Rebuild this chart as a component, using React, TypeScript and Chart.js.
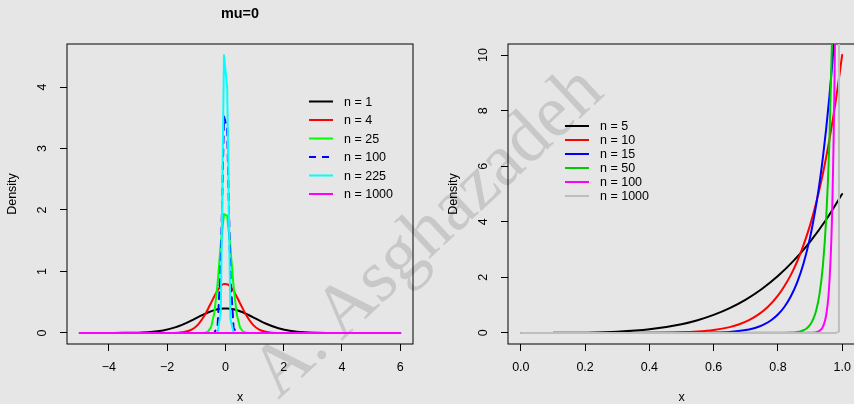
import React, { useEffect, useRef } from "react";
import { Chart, registerables } from "chart.js";

Chart.register(...registerables);

const FONT = '"Liberation Sans", Arial, Helvetica, sans-serif';
const BG = "#e6e6e6";

// ---------------- Left panel (mu = 0) ----------------
const leftTitle = "mu=0";
const leftXTicks = [-4, -2, 0, 2, 4, 6];
const leftXTickLabels = ["\u22124", "\u22122", "0", "2", "4", "6"];
const leftYTicks = [0, 1, 2, 3, 4];
const leftYTickLabels = ["0", "1", "2", "3", "4"];
const leftLabels = ["n = 1", "n = 4", "n = 25", "n = 100", "n = 225", "n = 1000"];

const n1X = [-5, -3.9, -3.46, -3.02, -2.58, -2.14, -1.7, -1.26, -1.04, -0.82, -0.6, -0.38, -0.16, -0.05, 0.06, 0.28, 0.5, 0.72, 0.94, 1.16, 1.38, 1.82, 2.26, 2.7, 3.14, 3.58, 4.02, 6];
const n1Y = [0, 0.0002, 0.001, 0.0042, 0.0143, 0.0404, 0.094, 0.18, 0.232, 0.285, 0.333, 0.371, 0.394, 0.398, 0.398, 0.384, 0.352, 0.308, 0.257, 0.204, 0.154, 0.076, 0.031, 0.0104, 0.0029, 0.0007, 0.0001, 0];

const n4X = [-5, -2.0, -1.6, -1.38, -1.16, -0.94, -0.72, -0.5, -0.27, -0.05, 0.06, 0.28, 0.5, 0.72, 0.94, 1.16, 1.38, 1.6, 2.0, 6];
const n4Y = [0, 0.0003, 0.0048, 0.0177, 0.054, 0.136, 0.283, 0.484, 0.69, 0.794, 0.792, 0.682, 0.484, 0.283, 0.136, 0.054, 0.0177, 0.0048, 0.0003, 0];

const n25X = [-5, -0.82, -0.71, -0.6, -0.49, -0.38, -0.27, -0.16, -0.05, 0.06, 0.17, 0.28, 0.39, 0.5, 0.61, 0.72, 0.83, 6];
const n25Y = [0, 0.0004, 0.0037, 0.022, 0.099, 0.328, 0.802, 1.449, 1.933, 1.907, 1.39, 0.749, 0.298, 0.088, 0.019, 0.003, 0.0003, 0];

const n100X = [-5, -0.49, -0.38, -0.27, -0.16, -0.05, 0.06, 0.17, 0.28, 0.39, 0.5, 6];
const n100Y = [0, 0, 0.003, 0.104, 1.109, 3.52, 3.332, 0.94, 0.079, 0.002, 0, 0];

const n225X = [-5, -0.38, -0.27, -0.16, -0.05, 0.06, 0.17, 0.28, 0.39, 6];
const n225Y = [0, 0, 0.0016, 0.336, 4.517, 3.991, 0.232, 0.0009, 0, 0];

const n1000X = [-5, 6];
const n1000Y = [0, 0];

// ---------------- Right panel ----------------
const rightXTicks = [0, 0.2, 0.4, 0.6, 0.8, 1.0];
const rightXTickLabels = ["0.0", "0.2", "0.4", "0.6", "0.8", "1.0"];
const rightYTicks = [0, 2, 4, 6, 8, 10];
const rightYTickLabels = ["0", "2", "4", "6", "8", "10"];
const rightLabels = ["n = 5", "n = 10", "n = 15", "n = 50", "n = 100", "n = 1000"];

const m5X = [0, 0.1, 0.2, 0.3, 0.4, 0.5, 0.55, 0.6, 0.65, 0.7, 0.75, 0.8, 0.85, 0.9, 0.95, 1.0];
const m5Y = [0, 0.0005, 0.008, 0.0405, 0.128, 0.3125, 0.4575, 0.648, 0.8925, 1.2005, 1.582, 2.048, 2.61, 3.2805, 4.0725, 5];

const m10X = [0, 0.3, 0.4, 0.5, 0.55, 0.6, 0.65, 0.68, 0.71, 0.74, 0.77, 0.8, 0.82, 0.84, 0.86, 0.88, 0.9, 0.92, 0.94, 0.96, 0.98, 1.0];
const m10Y = [0, 0.0002, 0.0026, 0.0195, 0.046, 0.101, 0.207, 0.311, 0.458, 0.665, 0.951, 1.34, 1.68, 2.08, 2.57, 3.17, 3.87, 4.72, 5.73, 6.93, 8.34, 10];

const m15X = [0, 0.5, 0.6, 0.65, 0.7, 0.72, 0.74, 0.76, 0.78, 0.8, 0.82, 0.84, 0.86, 0.88, 0.9, 0.91, 0.92, 0.93, 0.94, 0.95, 0.96, 0.97, 0.98, 0.99, 1.0];
const m15Y = [0, 0.0009, 0.0118, 0.036, 0.1017, 0.151, 0.2215, 0.322, 0.463, 0.66, 0.933, 1.31, 1.82, 2.51, 3.43, 4.01, 4.67, 5.43, 6.31, 7.32, 8.47, 9.79, 11.31, 13.03, 15];

const m50X = [0, 0.8, 0.82, 0.84, 0.85, 0.86, 0.87, 0.88, 0.89, 0.9, 0.91, 0.92, 0.93, 0.94, 0.95, 0.96, 0.97, 0.98, 0.99, 1.0];
const m50Y = [0, 0.0009, 0.003, 0.0097, 0.017, 0.031, 0.054, 0.095, 0.166, 0.286, 0.492, 0.84, 1.43, 2.41, 4.05, 6.77, 11.24, 18.58, 30.56, 50];

const m100X = [0, 0.85, 0.9, 0.91, 0.92, 0.93, 0.94, 0.95, 0.96, 0.97, 0.98, 0.99, 1.0];
const m100Y = [0, 0, 0.003, 0.0086, 0.026, 0.076, 0.219, 0.623, 1.76, 4.9, 13.5, 36.97, 100];

const m1000X = [0, 0.98, 0.99, 1.0];
const m1000Y = [0, 0, 0.044, 1000];

// ---------------- styles ----------------
const leftColors = ["#000000", "#FF0000", "#00FF00", "#0000FF", "#00FFFF", "#FF00FF"];
const rightColors = ["#000000", "#FF0000", "#0000FF", "#00CD00", "#FF00FF", "#BEBEBE"];

type Series = { x: number[]; y: number[]; label: string; color: string; dash?: number[]; smooth?: boolean };

type PanelCfg = {
  series: Series[];
  xMin: number; xMax: number; yMin: number; yMax: number;
  xTicks: number[]; xTickLabels: string[];
  yTicks: number[]; yTickLabels: string[];
  yAxisWidth: number; padRight: number;
  title?: string;
  legend: { x1: number; x2: number; tx: number; y0: number; dy: number };
};

function makeChart(canvas: HTMLCanvasElement, cfg: PanelCfg) {
  const n = cfg.series.length;
  const datasets = cfg.series.map((s, i) => ({
    label: s.label,
    data: s.x.map((xv, j) => ({ x: xv, y: s.y[j] })),
    borderColor: s.color,
    backgroundColor: s.color,
    borderWidth: 2,
    borderDash: s.dash || [],
    pointRadius: 0,
    fill: false,
    tension: s.smooth ? 0.4 : 0,
    cubicInterpolationMode: s.smooth ? "monotone" : "default",
    borderCapStyle: "round",
    borderJoinStyle: "round",
    order: n - i,
  }));

  const decor = {
    id: "rDecor",
    beforeDatasetsDraw(chart: any) {
      const { ctx, chartArea: ca } = chart;
      ctx.save();
      ctx.strokeStyle = "#000";
      ctx.lineWidth = 1;
      ctx.strokeRect(ca.left, ca.top, ca.right - ca.left, ca.bottom - ca.top);
      ctx.restore();
    },
    afterDraw(chart: any) {
      const { ctx, chartArea: ca, scales } = chart;
      ctx.save();
      ctx.fillStyle = "#000";
      ctx.font = `12.5px ${FONT}`;
      ctx.textAlign = "center";
      ctx.textBaseline = "middle";
      cfg.xTicks.forEach((t, i) => {
        ctx.fillText(cfg.xTickLabels[i], scales.x.getPixelForValue(t), ca.bottom + 24);
      });
      cfg.yTicks.forEach((t, i) => {
        const y = scales.y.getPixelForValue(t);
        ctx.save();
        ctx.translate(ca.left - 24, y);
        ctx.rotate(-Math.PI / 2);
        ctx.fillText(cfg.yTickLabels[i], 0, 0);
        ctx.restore();
      });
      // axis titles
      ctx.fillText("x", (ca.left + ca.right) / 2, ca.bottom + 54);
      ctx.save();
      ctx.translate(ca.left - 54, (ca.top + ca.bottom) / 2);
      ctx.rotate(-Math.PI / 2);
      ctx.fillText("Density", 0, 0);
      ctx.restore();
      if (cfg.title) {
        ctx.font = `bold 14.4px ${FONT}`;
        ctx.fillText(cfg.title, (ca.left + ca.right) / 2, 14);
      }
      // legend
      const L = cfg.legend;
      ctx.font = `12.5px ${FONT}`;
      ctx.textAlign = "left";
      cfg.series.forEach((s, i) => {
        const y = L.y0 + i * L.dy;
        ctx.save();
        ctx.strokeStyle = s.color;
        ctx.lineWidth = 2;
        ctx.setLineDash(s.dash || []);
        ctx.beginPath();
        ctx.moveTo(L.x1, y);
        ctx.lineTo(L.x2, y);
        ctx.stroke();
        ctx.restore();
        ctx.fillText(s.label, L.tx, y + 1);
      });
      ctx.restore();
    },
  };

  return new Chart(canvas, {
    type: "line",
    data: { datasets: datasets as any },
    plugins: [decor as any],
    options: {
      animation: false,
      responsive: false,
      maintainAspectRatio: false,
      devicePixelRatio: 1,
      events: [],
      layout: { padding: { top: 44, right: cfg.padRight, left: 0, bottom: 0 } },
      plugins: { legend: { display: false }, tooltip: { enabled: false }, title: { display: false } },
      scales: {
        x: {
          type: "linear",
          min: cfg.xMin,
          max: cfg.xMax,
          afterBuildTicks: (s: any) => {
            s.ticks = cfg.xTicks.map((v) => ({ value: v }));
          },
          afterFit: (s: any) => {
            s.height = 60;
          },
          ticks: { display: false },
          grid: { drawOnChartArea: false, drawTicks: true, tickLength: 7, tickColor: "#000", tickWidth: 1 },
          border: { display: false },
        },
        y: {
          type: "linear",
          min: cfg.yMin,
          max: cfg.yMax,
          afterBuildTicks: (s: any) => {
            s.ticks = cfg.yTicks.map((v) => ({ value: v }));
          },
          afterFit: (s: any) => {
            s.width = cfg.yAxisWidth;
          },
          ticks: { display: false },
          grid: { drawOnChartArea: false, drawTicks: true, tickLength: 7, tickColor: "#000", tickWidth: 1 },
          border: { display: false },
        },
      },
    } as any,
  });
}

const leftCfg: PanelCfg = {
  series: [
    { x: n1X, y: n1Y, label: leftLabels[0], color: leftColors[0], smooth: true },
    { x: n4X, y: n4Y, label: leftLabels[1], color: leftColors[1], smooth: true },
    { x: n25X, y: n25Y, label: leftLabels[2], color: leftColors[2] },
    { x: n100X, y: n100Y, label: leftLabels[3], color: leftColors[3], dash: [7, 6] },
    { x: n225X, y: n225Y, label: leftLabels[4], color: leftColors[4] },
    { x: n1000X, y: n1000Y, label: leftLabels[5], color: leftColors[5] },
  ],
  xMin: -5.44, xMax: 6.44, yMin: -0.18, yMax: 4.7,
  xTicks: leftXTicks, xTickLabels: leftXTickLabels,
  yTicks: leftYTicks, yTickLabels: leftYTickLabels,
  yAxisWidth: 67, padRight: 14,
  title: leftTitle,
  legend: { x1: 309, x2: 333, tx: 344, y0: 101.5, dy: 18.5 },
};

const rightCfg: PanelCfg = {
  series: [
    { x: m5X, y: m5Y, label: rightLabels[0], color: rightColors[0], smooth: true },
    { x: m10X, y: m10Y, label: rightLabels[1], color: rightColors[1], smooth: true },
    { x: m15X, y: m15Y, label: rightLabels[2], color: rightColors[2], smooth: true },
    { x: m50X, y: m50Y, label: rightLabels[3], color: rightColors[3], smooth: true },
    { x: m100X, y: m100Y, label: rightLabels[4], color: rightColors[4], smooth: true },
    { x: m1000X, y: m1000Y, label: rightLabels[5], color: rightColors[5] },
  ],
  xMin: -0.04, xMax: 1.04, yMin: -0.4, yMax: 10.4,
  xTicks: rightXTicks, xTickLabels: rightXTickLabels,
  yTicks: rightYTicks, yTickLabels: rightYTickLabels,
  yAxisWidth: 81, padRight: 0,
  legend: { x1: 138, x2: 162, tx: 173, y0: 126, dy: 14 },
};

export default function App() {
  const leftRef = useRef<HTMLCanvasElement>(null);
  const rightRef = useRef<HTMLCanvasElement>(null);

  useEffect(() => {
    document.body.style.margin = "0";
    document.body.style.background = BG;
    const c1 = makeChart(leftRef.current!, leftCfg);
    const c2 = makeChart(rightRef.current!, rightCfg);
    return () => {
      c1.destroy();
      c2.destroy();
    };
  }, []);

  return (
    <div style={{ position: "absolute", left: 0, top: 0, width: 854, height: 404, background: BG, overflow: "hidden" }}>
      <div
        style={{
          position: "absolute",
          left: 425,
          top: 229,
          transform: "translate(-50%, -50%) rotate(-43deg)",
          fontFamily: '"Liberation Serif", "Times New Roman", serif',
          fontSize: 74,
          lineHeight: 1,
          color: "#c8c8c8",
          whiteSpace: "nowrap",
          pointerEvents: "none",
        }}
      >
        A. Asghazadeh
      </div>
      <canvas ref={leftRef} width={427} height={404} style={{ position: "absolute", left: 0, top: 0, display: "block" }} />
      <canvas ref={rightRef} width={428} height={404} style={{ position: "absolute", left: 427, top: 0, display: "block" }} />
    </div>
  );
}
